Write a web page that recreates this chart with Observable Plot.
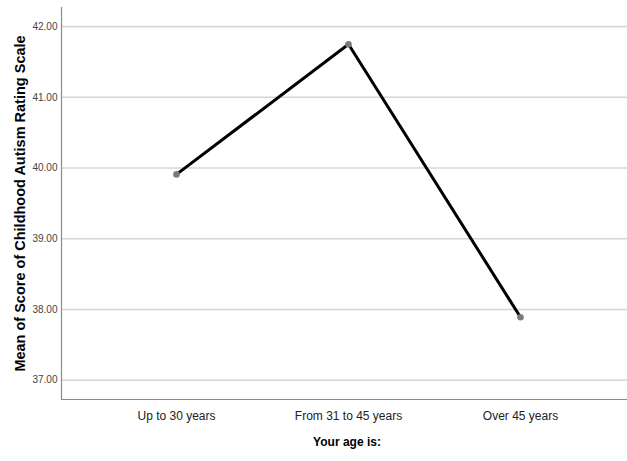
<!DOCTYPE html>
<html>
<head>
<meta charset="utf-8">
<script src="https://cdn.jsdelivr.net/npm/d3@7"></script>
<script src="https://cdn.jsdelivr.net/npm/@observablehq/plot@0.6"></script>
<style>
  html, body { margin: 0; padding: 0; background: #fff; }
  #chart svg { display: block; }
</style>
</head>
<body>
<div id="chart"></div>
<script>
// Mean CARS score by respondent age group
const ageGroups = ["Up to 30 years", "From 31 to 45 years", "Over 45 years"];
const meanScores = [39.91, 41.75, 37.89];
const yTicks = [37, 38, 39, 40, 41, 42];
const yTitle = "Mean of Score of Childhood Autism Rating Scale";
const xTitle = "Your age is:";

const data = ageGroups.map((g, i) => ({group: g, score: meanScores[i]}));
const yMin = 36.727, yMax = 42.27;

const chart = Plot.plot({
  width: 627,
  height: 461,
  marginLeft: 61,
  marginRight: 0,
  marginTop: 7,
  marginBottom: 62,
  style: {fontFamily: "'Liberation Sans', Arial, sans-serif", background: "#fff"},
  x: {type: "point", domain: ageGroups, range: [175.7, 520.7], padding: 0, axis: null},
  y: {domain: [yMin, yMax], axis: null},
  marks: [
    Plot.ruleY(yTicks, {stroke: "#d6d6d6", strokeWidth: 1.6}),
    Plot.ruleY([yMin], {stroke: "#8a8a8a", strokeWidth: 1.2}),
    Plot.frame({anchor: "left", stroke: "#8a8a8a", strokeWidth: 1.2}),
    Plot.axisY(yTicks, {
      tickSize: 0, tickPadding: 4, tickFormat: d3.format(".2f"),
      fontFamily: "'Liberation Sans Narrow', 'Liberation Sans', sans-serif",
      fontSize: 10, fill: "#444", label: null
    }),
    Plot.axisX(ageGroups, {
      tickSize: 0, tickPadding: 12, fontSize: 12, fill: "#222", label: null
    }),
    Plot.line(data, {x: "group", y: "score", stroke: "#000", strokeWidth: 3}),
    Plot.dot(data, {x: "group", y: "score", r: 3.3, fill: "#7a7a7a", stroke: "none"}),
    Plot.text([yTitle], {
      frameAnchor: "left", dx: -41, rotate: -90,
      textAnchor: "middle", lineAnchor: "middle",
      fontSize: 14.5, fontWeight: "bold", fill: "#000"
    }),
    Plot.text([xTitle], {
      frameAnchor: "bottom", dx: 2.5, dy: 43,
      textAnchor: "middle", lineAnchor: "middle",
      fontSize: 12, fontWeight: "bold", fill: "#000"
    })
  ]
});
document.getElementById("chart").appendChild(chart);
</script>
</body>
</html>
